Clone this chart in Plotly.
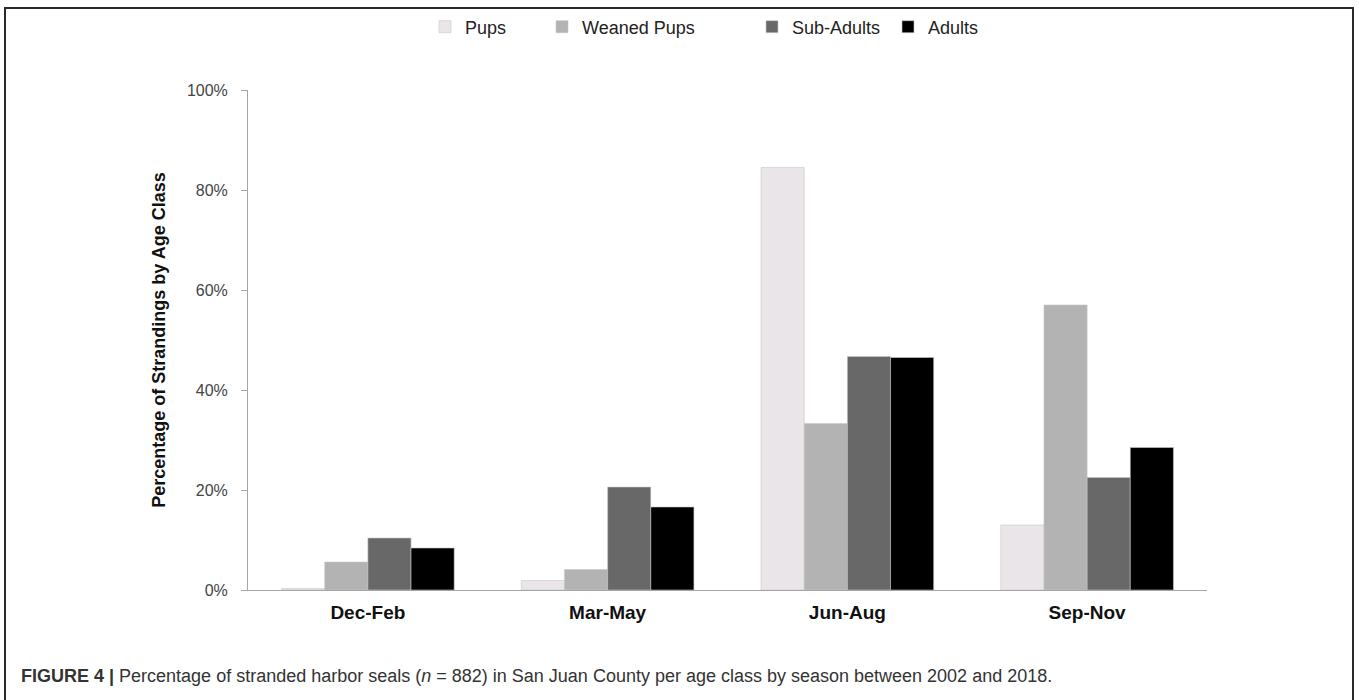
import plotly.graph_objects as go

# data (percent of strandings)
seasons = ["Dec-Feb", "Mar-May", "Jun-Aug", "Sep-Nov"]
pups = [0.3, 1.9, 84.5, 13.0]
weaned_pups = [5.6, 4.1, 33.3, 57.0]
sub_adults = [10.4, 20.6, 46.7, 22.5]
adults = [8.4, 16.6, 46.5, 28.5]
y_ticks = [0, 20, 40, 60, 80, 100]
y_ticktext = ["%d%%" % v for v in y_ticks]

W, H = 1359, 700
L, R, T, B = 248, 152, 90, 110
pw, ph = W - L - R, H - T - B


def px(x):
    return (x - L) / pw


def py(y):
    return (H - B - y) / ph


series = [
    ("Pups", pups, "#E9E5E8"),
    ("Weaned Pups", weaned_pups, "#B3B3B3"),
    ("Sub-Adults", sub_adults, "#686868"),
    ("Adults", adults, "#000000"),
]
# left edge of each legend entry (pixels), one legend per series
legend_x = [425, 542, 752, 888]

font = "Liberation Sans, Arial, Helvetica, sans-serif"

fig = go.Figure()
legends = {}
for i, (name, vals, col) in enumerate(series):
    key = "legend" if i == 0 else "legend%d" % (i + 1)
    fig.add_trace(go.Bar(x=seasons, y=vals, name=name, marker_color=col,
                         marker_line=dict(color="#C8C8C8", width=0.6),
                         legend=key))
    legends[key] = dict(orientation="h", x=px(legend_x[i]), y=py(27),
                        xanchor="left", yanchor="middle", itemwidth=30,
                        bgcolor="rgba(0,0,0,0)",
                        font=dict(size=18, color="#222222", family=font))

fig.update_layout(
    width=W, height=H,
    margin=dict(l=L, r=R, t=T, b=B, autoexpand=False),
    paper_bgcolor="white", plot_bgcolor="white",
    barmode="group", bargap=0.28, bargroupgap=0,
    font=dict(family=font, size=17, color="#333333"),
    showlegend=True,
    **legends,
)

fig.update_yaxes(range=[0, 100], tickvals=y_ticks, ticktext=y_ticktext,
                 showgrid=False, zeroline=False,
                 showline=True, linecolor="#A6A6A6", linewidth=1,
                 ticks="outside", ticklen=6, tickcolor="#A6A6A6",
                 ticklabelstandoff=10,
                 tickfont=dict(size=16, color="#444444"),
                 title=dict(text="<b>Percentage of Strandings by Age Class</b>",
                            font=dict(size=18, color="#111111"), standoff=16))
fig.update_xaxes(showgrid=False, showline=True, linecolor="#A6A6A6", linewidth=1,
                 ticks="", tickfont=dict(size=19, color="#111111"),
                 tickvals=seasons, ticktext=["<b>%s</b>" % s for s in seasons],
                 ticklabelstandoff=5)

# outer frame
fig.add_shape(type="rect", xref="paper", yref="paper",
              x0=px(5), x1=px(1353), y0=py(703), y1=py(8),
              line=dict(color="#2A2A2A", width=2), layer="above")

# caption
fig.add_annotation(xref="paper", yref="paper", x=px(19), y=py(676),
                   xanchor="left", yanchor="middle", showarrow=False,
                   text="<b>FIGURE 4 |</b> Percentage of stranded harbor seals (<i>n</i> = 882) "
                        "in San Juan County per age class by season between 2002 and 2018.",
                   font=dict(size=18, color="#333333", family=font))

fig.write_html("out.html", config={"displayModeBar": False},
               post_script="document.body.style.margin='0';")
